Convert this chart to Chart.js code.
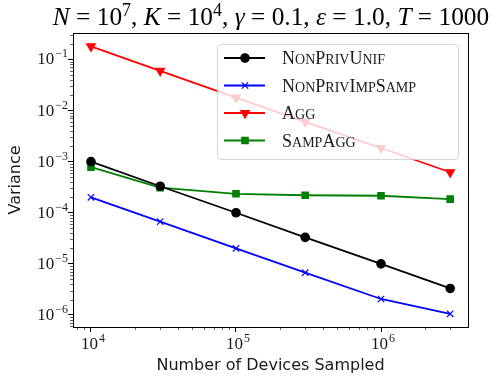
<!DOCTYPE html>
<html>
<head>
<meta charset="utf-8">
<script src="https://cdn.jsdelivr.net/npm/chart.js@4/dist/chart.umd.min.js"></script>
<style>
  html, body { margin:0; padding:0; background:#fff; }
  #wrap { width:498px; height:383px; }
</style>
</head>
<body>
<div id="wrap"><canvas id="chart" width="498" height="383"></canvas></div>
<script>
// ------------------- Data -------------------
const devices        = [1e4, 3e4, 1e5, 3e5, 1e6, 3e6];
const nonPrivUnif    = [1.0e-3, 3.3e-4, 1.0e-4, 3.3e-5, 1.0e-5, 3.3e-6];
const nonPrivImpSamp = [2.0e-4, 6.7e-5, 2.0e-5, 6.7e-6, 2.05e-6, 1.05e-6];
const agg            = [1.8e-1, 6.0e-2, 1.8e-2, 6.0e-3, 1.85e-3, 6.2e-4];
const sampAgg        = [7.8e-4, 3.1e-4, 2.35e-4, 2.2e-4, 2.15e-4, 1.85e-4];
const seriesLabels   = ["NonPrivUnif", "NonPrivImpSamp", "Agg", "SampAgg"];
const xRange = [7516, 3.98e6];
const yRange = [5.8e-7, 0.33];

const SERIF = "'Liberation Serif', 'DejaVu Serif', serif";
const SANS = "'DejaVu Sans', sans-serif";

function pts(ys){ return devices.map((x,i)=>({x, y:ys[i]})); }
function logTicks(scale){
  const out = [];
  for(let e=-8; e<=8; e++){
    for(let m=1; m<=9; m++){
      const v = m*Math.pow(10,e);
      if(v >= scale.min*0.9999 && v <= scale.max*1.0001) out.push({value:v, major:m===1});
    }
  }
  scale.ticks = out;
}

// ------------------- Text helpers -------------------
function smallCaps(ctx, text, x, y, size){
  for(const ch of text){
    const lower = ch !== ch.toUpperCase();
    const s = lower ? size*0.78 : size;
    ctx.font = s + "px " + SERIF;
    ctx.fillText(ch.toUpperCase(), x, y);
    x += ctx.measureText(ch.toUpperCase()).width;
  }
  return x;
}

// "10" with a raised exponent; align: 'right' or 'center'
function powText(ctx, v, x, y, align){
  const e = String(Math.round(Math.log10(v))).replace("-", "\u2212");
  const base = "17px " + SERIF, sup = "12px " + SERIF;
  ctx.font = base; const wb = ctx.measureText("10").width;
  ctx.font = sup;  const we = ctx.measureText(e).width + 1;
  let x0 = align === "right" ? x - wb - we : x - (wb + we)/2;
  ctx.font = base; ctx.fillText("10", x0, y);
  ctx.font = sup;  ctx.fillText(e, x0 + wb + 1, y - 7);
}

// ------------------- Plugin -------------------
const framePlugin = {
  id: "frame",
  afterDraw(chart){
    const {ctx, chartArea:a} = chart;
    const sx = chart.scales.x, sy = chart.scales.y;
    ctx.save();
    // minor ticks
    ctx.strokeStyle = "#000"; ctx.lineWidth = 0.6;
    ctx.beginPath();
    sx.ticks.forEach(t=>{
      if(t.major) return;
      const px = Math.round(sx.getPixelForValue(t.value))+0.5;
      ctx.moveTo(px, a.bottom); ctx.lineTo(px, a.bottom+3);
    });
    sy.ticks.forEach(t=>{
      if(t.major) return;
      const py = Math.round(sy.getPixelForValue(t.value))+0.5;
      ctx.moveTo(a.left, py); ctx.lineTo(a.left-3, py);
    });
    ctx.stroke();
    ctx.lineWidth = 1;
    ctx.strokeRect(Math.round(a.left)+0.5, Math.round(a.top)+0.5, Math.round(a.right-a.left), Math.round(a.bottom-a.top));

    // tick labels
    ctx.fillStyle = "#1a1a1a"; ctx.textAlign = "left"; ctx.textBaseline = "alphabetic";
    sx.ticks.forEach(t=>{ if(t.major) powText(ctx, t.value, sx.getPixelForValue(t.value)+2, a.bottom+22, "center"); });
    sy.ticks.forEach(t=>{ if(t.major) powText(ctx, t.value, a.left-5, sy.getPixelForValue(t.value)+5, "right"); });

    // title, mixed italic / upright like math text
    const parts = [
      ["N","i"],[" = 10",""],["7","s"],[", ",""],["K","i"],[" = 10",""],["4","s"],[", ",""],
      ["γ","i"],[" = 0.1, ",""],["ε","i"],[" = 1.0, ",""],["T","i"],[" = 1000",""]
    ];
    let fs = 22;
    const fontOf = k => k==="i" ? "italic "+fs+"px "+SERIF : k==="s" ? Math.round(fs*0.7)+"px "+SERIF : fs+"px "+SERIF;
    const measure = () => parts.reduce((w,[t,k])=>{ ctx.font = fontOf(k); return w + ctx.measureText(t).width; }, 0);
    fs = fs * 436 / measure();
    const w = measure();
    let x = 271 - w/2;
    const base = 25;
    ctx.fillStyle = "#000";
    parts.forEach(([t,k])=>{
      ctx.font = fontOf(k);
      ctx.fillText(t, x, k==="s" ? base-9 : base);
      x += ctx.measureText(t).width;
    });
    ctx.restore();
  },
  afterDatasetsDraw(chart){
    const {ctx, chartArea:a} = chart;
    const bx = a.right-251, by = a.top+11, bw = 241, bh = 115;
    ctx.save();
    ctx.fillStyle = "rgba(255,255,255,0.8)";
    ctx.strokeStyle = "rgba(204,204,204,0.8)";
    ctx.lineWidth = 1;
    ctx.beginPath();
    ctx.roundRect(bx+0.5, by+0.5, bw, bh, 4);
    ctx.fill(); ctx.stroke();
    chart.data.datasets.forEach((ds,i)=>{
      const y = by + 14 + i*27.5;
      ctx.strokeStyle = ds.borderColor; ctx.fillStyle = ds.borderColor; ctx.lineWidth = 1.8;
      ctx.beginPath(); ctx.moveTo(bx+7, y); ctx.lineTo(bx+48, y); ctx.stroke();
      ctx.lineWidth = ds.pointBorderWidth;
      Chart.helpers.drawPoint(ctx, {
        pointStyle: ds.pointStyle, radius: ds.pointRadius, rotation: ds.pointRotation || 0,
        borderWidth: ds.pointBorderWidth
      }, bx+28, y);
      ctx.fillStyle = "#1a1a1a"; ctx.textBaseline = "alphabetic"; ctx.textAlign = "left";
      smallCaps(ctx, ds.label, bx+65, y+6, 18);
    });
    ctx.restore();
  }
};

// ------------------- Chart -------------------
function series(label, ys, color, style, radius, rotation){
  return {
    label, data: pts(ys), borderColor: color, backgroundColor: color,
    borderWidth: 1.8, pointStyle: style, pointRadius: radius, pointHoverRadius: radius,
    pointRotation: rotation || 0, pointBorderWidth: 1.2, pointBackgroundColor: color,
    pointBorderColor: color, tension: 0
  };
}

new Chart(document.getElementById("chart"), {
  type: "line",
  data: {
    datasets: [
      series(seriesLabels[0], nonPrivUnif, "#000000", "circle", 4.2),
      series(seriesLabels[1], nonPrivImpSamp, "#0000ff", "crossRot", 4.5),
      series(seriesLabels[2], agg, "#ff0000", "triangle", 5, 180),
      series(seriesLabels[3], sampAgg, "#008000", "rect", 4.5)
    ]
  },
  options: {
    responsive: false,
    animation: false,
    layout: { padding: { left: 0, right: 30, top: 33, bottom: 0 } },
    plugins: { legend: { display: false }, title: { display: false }, tooltip: { enabled: false } },
    scales: {
      x: {
        type: "logarithmic", min: xRange[0], max: xRange[1],
        afterBuildTicks: logTicks,
        afterFit(s){ s.height = 56; },
        border: { display: false },
        grid: { drawOnChartArea: false, drawTicks: true, tickLength: 5,
                tickColor: c => c.tick && c.tick.major ? "#000" : "rgba(0,0,0,0)", tickWidth: 1 },
        ticks: { autoSkip: false, maxRotation: 0, callback: () => "" },
        title: { display: true, text: "Number of Devices Sampled", color: "#1a1a1a",
                 font: { family: SANS, size: 16 }, padding: { top: 0, bottom: 8 } }
      },
      y: {
        type: "logarithmic", min: yRange[0], max: yRange[1],
        afterBuildTicks: logTicks,
        afterFit(s){ s.width = 73; },
        border: { display: false },
        grid: { drawOnChartArea: false, drawTicks: true, tickLength: 5,
                tickColor: c => c.tick && c.tick.major ? "#000" : "rgba(0,0,0,0)", tickWidth: 1 },
        ticks: { autoSkip: false, callback: () => "" },
        title: { display: true, text: "Variance", color: "#1a1a1a",
                 font: { family: SANS, size: 16 }, padding: { top: 6, bottom: 0 } }
      }
    }
  },
  plugins: [framePlugin]
});
</script>
</body>
</html>
